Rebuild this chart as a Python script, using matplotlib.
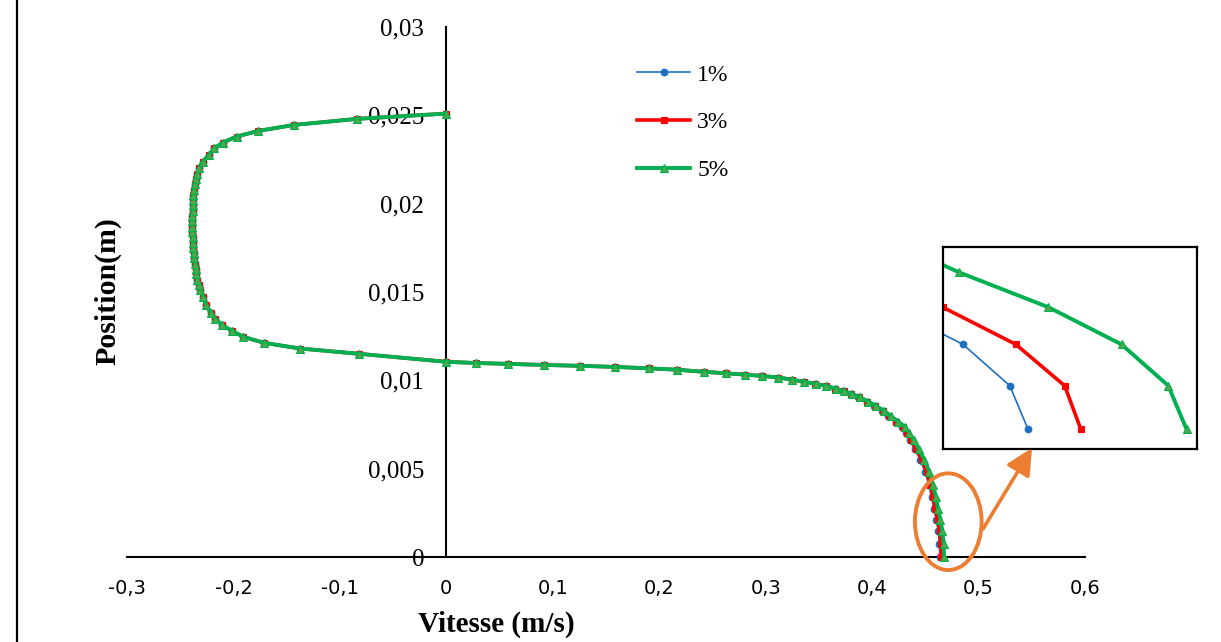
import matplotlib
matplotlib.use("Agg")
import matplotlib.pyplot as plt
from matplotlib.patches import Ellipse

# ---- data -------------------------------------------------------------
position_m = [
    0.0, 0.00075, 0.00146, 0.0021, 0.0027, 0.0034, 0.0041, 0.0048, 0.0055,
    0.0061, 0.0066, 0.0070, 0.00734, 0.00766, 0.00798, 0.00828, 0.00855,
    0.0088, 0.00904, 0.00923, 0.00938, 0.00953, 0.00968, 0.0098, 0.00992,
    0.01004, 0.01016, 0.01025, 0.01032, 0.0104, 0.01048, 0.0106, 0.01068,
    0.01076, 0.01082, 0.01087, 0.01093, 0.01098, 0.01105, 0.0115, 0.0118,
    0.01212, 0.01246, 0.0128, 0.01312, 0.01348, 0.01382, 0.01425, 0.0147,
    0.0151, 0.0154, 0.0157, 0.0160, 0.0163, 0.0166, 0.0169, 0.0172, 0.0175,
    0.0178, 0.0181, 0.0184, 0.0187, 0.0190, 0.0193, 0.0196, 0.0199, 0.0202,
    0.0205, 0.0208, 0.0211, 0.0214, 0.0217, 0.0220, 0.02238, 0.02276,
    0.02314, 0.02346, 0.0238, 0.02412, 0.02446, 0.0248, 0.0251,
]

# velocity above the interface region, common to the three concentrations
upper_profile = [
    0.3117, 0.2970, 0.2810, 0.2626, 0.2423, 0.2170, 0.1900, 0.1580, 0.1255,
    0.0920, 0.0582, 0.0282, 0.0, -0.0817, -0.1374, -0.1710, -0.1906, -0.2012,
    -0.2106, -0.2169, -0.2215, -0.2255, -0.2285, -0.2310, -0.2325, -0.2338,
    -0.2348, -0.2356, -0.2362, -0.2367, -0.2372, -0.2376, -0.2380, -0.2383,
    -0.2385, -0.2386, -0.2386, -0.2385, -0.2384, -0.2382, -0.2380, -0.2377,
    -0.2372, -0.2365, -0.2355, -0.2342, -0.2325, -0.2288, -0.2232, -0.2178,
    -0.2100, -0.1970, -0.1765, -0.1427, -0.0836, 0.0,
]

vitesse_1 = [
    0.4637, 0.46325, 0.4621, 0.4603, 0.4581, 0.4559, 0.4533, 0.4499, 0.4453,
    0.4401, 0.4354, 0.4317, 0.4280, 0.4220, 0.4151, 0.4092, 0.4017, 0.3951,
    0.3872, 0.3801, 0.3730, 0.3655, 0.3566, 0.3467, 0.3358, 0.3245,
] + upper_profile

vitesse_3 = [
    0.4650, 0.4646, 0.4634, 0.4616, 0.4594, 0.4572, 0.4546, 0.4512, 0.4466,
    0.4414, 0.4366, 0.4328, 0.4290, 0.4229, 0.4159, 0.4099, 0.4023, 0.3956,
    0.3876, 0.3804, 0.3732, 0.3656, 0.3567, 0.3468, 0.3359, 0.3246,
] + upper_profile

vitesse_5 = [
    0.4676, 0.46715, 0.4660, 0.4642, 0.4620, 0.4598, 0.4572, 0.4538, 0.4492,
    0.4440, 0.4390, 0.4350, 0.4310, 0.4247, 0.4175, 0.4113, 0.4035, 0.3966,
    0.3884, 0.3810, 0.3737, 0.3660, 0.3570, 0.3470, 0.3360, 0.3246,
] + upper_profile

series_labels = ["1%", "3%", "5%"]

x_ticks = [-0.3, -0.2, -0.1, 0.0, 0.1, 0.2, 0.3, 0.4, 0.5, 0.6]
x_tick_labels = ["-0,3", "-0,2", "-0,1", "0", "0,1", "0,2", "0,3", "0,4", "0,5", "0,6"]
y_ticks = [0.0, 0.005, 0.01, 0.015, 0.02, 0.025, 0.03]
y_tick_labels = ["0", "0,005", "0,01", "0,015", "0,02", "0,025", "0,03"]

# ---- styling ----------------------------------------------------------
W, H = 1221, 642
SERIF = "Liberation Serif"
styles = [
    dict(color="#1F6FC0", lw=1.2, marker="o", ms=4.8, mfc="#1F6FC0", mec="#1F6FC0"),
    dict(color="#FF0000", lw=2.6, marker="s", ms=4.8, mfc="#FF0000", mec="#FF0000"),
    dict(color="#00B050", lw=2.8, marker="^", ms=6.4, mfc="#4CAA48", mec="#00B050"),
]


def px_box(left, top, right, bottom):
    return [left / W, 1 - bottom / H, (right - left) / W, (bottom - top) / H]


fig = plt.figure(figsize=(W / 100, H / 100), dpi=100)
fig.patch.set_facecolor("white")

ax = fig.add_axes(px_box(127, 27, 1085, 557))
ax.patch.set_alpha(0)
for xs, lab, st in zip([vitesse_1, vitesse_3, vitesse_5], series_labels, styles):
    ax.plot(xs, position_m, label=lab, zorder=3, clip_on=False, mew=0.8, **st)

ax.set_xlim(-0.3, 0.6)
ax.set_ylim(0, 0.03)
ax.spines["left"].set_position(("data", 0))
ax.spines["top"].set_visible(False)
ax.spines["right"].set_visible(False)
for s in ("left", "bottom"):
    ax.spines[s].set_linewidth(1.5)
    ax.spines[s].set_zorder(2)

ax.set_xticks(x_ticks)
ax.set_xticklabels(x_tick_labels, fontfamily="DejaVu Sans", fontsize=14)
ax.set_yticks(y_ticks)
ax.set_yticklabels(y_tick_labels, fontfamily=SERIF, fontsize=18)
ax.tick_params(axis="x", length=0, pad=15.5)
ax.tick_params(axis="y", length=0, pad=16)

fig.text(496 / W, 1 - 624 / H, "Vitesse (m/s)", ha="center", va="center",
         fontfamily=SERIF, fontweight="bold", fontsize=21)
fig.text(108 / W, 1 - 291 / H, "Position(m)", ha="center", va="center",
         rotation=90, fontfamily=SERIF, fontweight="bold", fontsize=21.5)

ax.legend(loc="upper left", bbox_to_anchor=(637 / W, 1 - 64 / H),
          bbox_transform=fig.transFigure, frameon=False,
          prop={"family": SERIF, "size": 17}, handlelength=2.25,
          handletextpad=0.3, labelspacing=1.12, borderpad=0, borderaxespad=0)

# ---- zoom on the bottom of the profile -------------------------------
ax_in = fig.add_axes(px_box(942.7, 247.3, 1196.7, 449.3))
for xs, st in zip([vitesse_1, vitesse_3, vitesse_5], styles):
    ax_in.plot(xs, position_m, mew=0.8, **st)
ax_in.set_xlim(0.4616, 0.46785)
ax_in.set_ylim(-0.000344, 0.00313)
ax_in.set_xticks([])
ax_in.set_yticks([])
for sp in ax_in.spines.values():
    sp.set_linewidth(1.6)
    sp.set_color("black")

# ---- annotation layer (pixel coordinates) ----------------------------
ov = fig.add_axes([0, 0, 1, 1])
ov.set_xlim(0, W)
ov.set_ylim(H, 0)
ov.axis("off")
ov.patch.set_alpha(0)
ov.axvline(17, color="black", lw=1.6)
ov.add_patch(Ellipse((948.3, 521.7), 66.7, 96.7, fill=False,
                     ec="#ED7D31", lw=2.8))
ov.annotate("", xy=(1032, 448), xytext=(983, 529),
            arrowprops=dict(arrowstyle="-|>,head_length=0.8,head_width=0.4",
                            lw=2.6, color="#ED7D31", shrinkA=0, shrinkB=0,
                            mutation_scale=20))

fig.savefig("out.png", dpi=100)
